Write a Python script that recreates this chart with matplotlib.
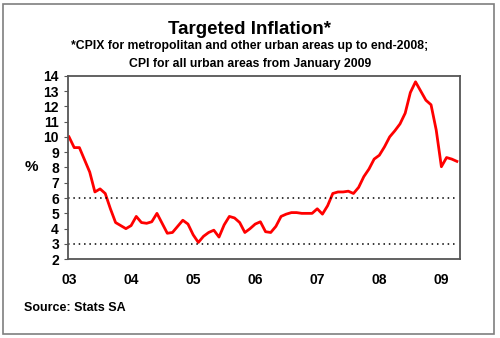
import numpy as np
import matplotlib.pyplot as plt
from matplotlib.patches import Rectangle

plt.rcParams['font.family'] = ['Liberation Sans', 'DejaVu Sans']
plt.rcParams['font.weight'] = 'bold'

# monthly targeted inflation, Jan 2003 - Apr 2009
infl_2003 = [10.0, 9.3, 9.3, 8.5, 7.7, 6.4, 6.6, 6.3, 5.3, 4.4, 4.2, 4.0]
infl_2004 = [4.2, 4.8, 4.4, 4.35, 4.45, 5.0, 4.35, 3.7, 3.75, 4.15, 4.55, 4.3]
infl_2005 = [3.6, 3.1, 3.5, 3.75, 3.9, 3.45, 4.25, 4.8, 4.7, 4.4, 3.75, 4.0]
infl_2006 = [4.3, 4.45, 3.8, 3.75, 4.15, 4.8, 4.95, 5.05, 5.05, 5.0, 5.0, 5.0]
infl_2007 = [5.3, 4.95, 5.5, 6.3, 6.4, 6.4, 6.45, 6.3, 6.7, 7.4, 7.9, 8.55]
infl_2008 = [8.8, 9.35, 10.0, 10.4, 10.85, 11.55, 12.9, 13.6, 13.0, 12.4, 12.1, 10.45]
infl_2009 = [8.05, 8.65, 8.55, 8.4]

inflation = infl_2003 + infl_2004 + infl_2005 + infl_2006 + infl_2007 + infl_2008 + infl_2009
year_labels = ['03', '04', '05', '06', '07', '08', '09']
target_band = [3, 6]

months = np.arange(len(inflation))

fig = plt.figure(figsize=(5, 3.38), dpi=100)
fig.patches.append(Rectangle((0.006, 0.012), 0.982, 0.976, transform=fig.transFigure,
                             fill=False, edgecolor='#7f7f7f', linewidth=1.2))

ax = fig.add_axes([0.136, 0.233, 0.784, 0.543])
ax.plot(months, inflation, color='red', linewidth=2)
for level in target_band:
    ax.hlines(level, -0.2, 74.7, colors='black', linestyles=(0, (1, 2.5)), linewidth=1.1)

ax.set_xlim(-0.2, 75.6)
ax.set_ylim(2, 14)
ax.set_yticks(range(2, 15))
ax.set_xticks(np.arange(0, len(inflation), 12))
ax.set_xticklabels(year_labels)
ax.tick_params(axis='both', labelsize=10, length=3, color='#555555')
ax.tick_params(axis='x', length=0, pad=10)
for spine in ax.spines.values():
    spine.set_color('#555555')
    spine.set_linewidth(1.3)

ax.set_ylabel('%', rotation=0, fontsize=11, fontweight='bold', va='center')
ax.yaxis.set_label_coords(-0.093, 0.5)

fig.text(0.5, 0.912, 'Targeted Inflation*', ha='center', va='center', fontsize=13.5, fontweight='bold')
fig.text(0.5, 0.865, '*CPIX for metropolitan and other urban areas up to end-2008;',
         ha='center', va='center', fontsize=8.8, fontweight='bold')
fig.text(0.5, 0.812, 'CPI for all urban areas from January 2009',
         ha='center', va='center', fontsize=8.8, fontweight='bold')
fig.text(0.048, 0.09, 'Source: Stats SA', ha='left', va='center', fontsize=9, fontweight='bold')

plt.savefig('out.png', dpi=100)
